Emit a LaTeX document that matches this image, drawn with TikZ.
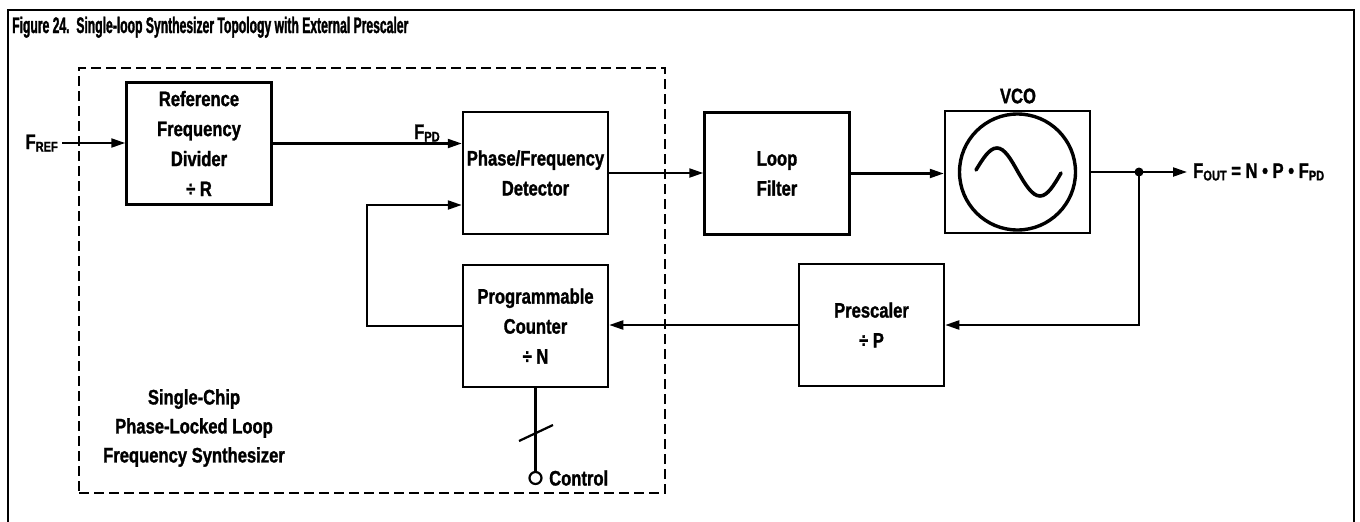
\documentclass[tikz,border=0pt]{standalone}
\usepackage{fontspec}
\setmainfont{Liberation Sans}[FakeStretch=0.79, BoldFeatures={FakeBold=1.3}]
\newfontfamily\titlefont{Liberation Sans}[FakeStretch=0.54, BoldFeatures={FakeBold=1.3}]
\usetikzlibrary{arrows.meta}
\newcommand{\lowsub}[1]{\raisebox{-2.5pt}{\fontsize{14}{14}\selectfont #1}}
\begin{document}
\begin{tikzpicture}[x=1pt,y=-1pt,
  blk/.style={draw, line width=2.5pt, minimum width=145pt, minimum height=122pt, align=center, inner sep=0pt, font=\fontsize{21}{30}\selectfont\bfseries},
  arr/.style={line width=2.2pt, -{Triangle[length=14pt,width=9pt]}},
  wire/.style={line width=2.2pt},
  lbl/.style={font=\fontsize{21}{29}\selectfont\bfseries, inner sep=0pt, align=center}]
\useasboundingbox (0,0) rectangle (1360,522);
% outer frame
\draw[line width=2.4pt] (8,522) -- (8,10) -- (1354,10) -- (1354,522);
\node[anchor=base west, inner sep=0pt, font=\fontsize{22.5}{24}\titlefont\bfseries] (title) at (12,33)
  {Figure 24.\ \ Single-loop Synthesizer Topology with External Prescaler};
% chip boundary
\node[draw, line width=2.2pt, dash pattern=on 10pt off 5pt, minimum width=586pt, minimum height=425pt, inner sep=0pt] (chip) at (372,280.5) {};
% blocks
\node[blk] (refdiv) at (199,143.5) {Reference\\Frequency\\Divider\\÷ R};
\node[blk] (pfd) at (535.5,173) {Phase/Frequency\\Detector};
\node[blk] (lf) at (777,173.5) {Loop\\Filter};
\node[blk] (vco) at (1017.5,172) {};
\node[blk] (cnt) at (535.5,326) {Programmable\\Counter\\÷ N};
\node[blk] (pre) at (871.5,325) {Prescaler\\÷ P};
% VCO symbol
\draw[line width=3.4pt] (vco.center) circle[radius=58];
\draw[line width=3.6pt, line cap=round] (976,170) sin (997,148) cos (1018,172) sin (1040,196) cos (1061,173);
\node[lbl] (vcolbl) at (1018,96) {VCO};
% labels
\node[lbl, anchor=base east] (fref) at (58,149) {F\lowsub{REF}};
\node[lbl, anchor=base west] (fpd) at (414,139) {F\lowsub{PD}};
\node[lbl, anchor=west] (fout) at (1193,172) {F\lowsub{OUT} = N • P • F\lowsub{PD}};
\node[lbl] (chiplbl) at (194,428) {Single-Chip\\Phase-Locked Loop\\Frequency Synthesizer};
% connectors
\coordinate (frefst) at (62,143);
\draw[arr] (frefst) -- (refdiv.west |- frefst);
\draw[arr] (refdiv.east) -- (pfd.west |- refdiv.east);
\coordinate (fbc) at (367,205);
\draw[arr] (cnt.west) -| (fbc) -- (fbc -| pfd.west);
\draw[arr] (pfd.east) -- (lf.west |- pfd.east);
\draw[arr] (lf.east) -- (vco.west |- lf.east);
\coordinate (tap) at (1139,172);
\coordinate (out) at (1187,172);
\draw[arr] (vco.east) -- (out);
\fill (tap) circle[radius=4.5];
\draw[arr] (tap) |- (pre.east);
\draw[arr] (pre.west) -- (cnt.east |- pre.west);
% control input
\node[circle, draw, line width=2.2pt, minimum size=12pt, inner sep=0pt] (ctl) at (535.5,478) {};
\draw[wire] (cnt.south) -- (ctl.north);
\draw[wire] (519,441) -- (553,425);
\node[lbl, anchor=west] (ctltxt) at (549,478) {Control};
\end{tikzpicture}
\end{document}
